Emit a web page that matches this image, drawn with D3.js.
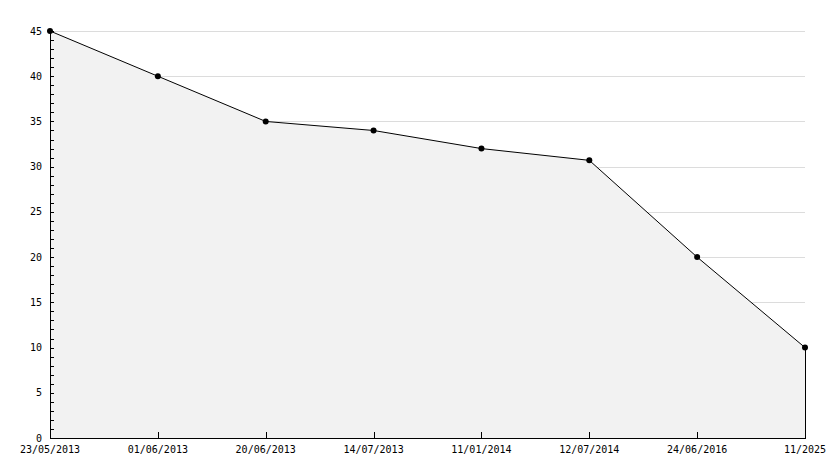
<!DOCTYPE html>
<html><head><meta charset="utf-8">
<script src="https://cdn.jsdelivr.net/npm/d3@7"></script>
<style>body{margin:0;background:#fff}svg{display:block}</style>
</head><body>
<svg id="c" width="834" height="468"></svg>
<script>
const categories = ["23/05/2013","01/06/2013","20/06/2013","14/07/2013","11/01/2014","12/07/2014","24/06/2016","11/2025"];
const values = [45, 40, 35, 34, 32, 30.7, 20, 10];
const yTicks = [0,5,10,15,20,25,30,35,40,45];

(function(){
const svg = d3.select("#c");
const mLeft = 50, mRight = 805, mTop = 31, mBottom = 438;
const x = d3.scalePoint().domain(categories).range([mLeft, mRight]);
const y = d3.scaleLinear().domain([0, 45]).range([mBottom, mTop]);
const font = "DejaVu Sans Mono";

svg.append("g").selectAll("line").data(yTicks.filter(t => t > 0)).join("line")
  .attr("x1", mLeft).attr("x2", mRight)
  .attr("y1", d => Math.round(y(d)) + 0.5).attr("y2", d => Math.round(y(d)) + 0.5)
  .attr("stroke", "#dcdcdc").attr("stroke-width", 1);

const data = categories.map((c, i) => ({c, v: values[i]}));
const area = d3.area().x(d => x(d.c)).y0(mBottom).y1(d => y(d.v));
svg.append("path").datum(data).attr("d", area).attr("fill", "#f2f2f2");
const line = d3.line().x(d => x(d.c)).y(d => y(d.v));
svg.append("path").datum(data).attr("d", line).attr("fill", "none").attr("stroke", "#000").attr("stroke-width", 1);
const last = data[data.length - 1];
svg.append("line").attr("x1", x(last.c) + 0.5).attr("x2", x(last.c) + 0.5)
  .attr("y1", y(last.v)).attr("y2", mBottom).attr("stroke", "#000");

const yAxis = svg.append("g");
yAxis.append("line").attr("x1", mLeft + 0.5).attr("x2", mLeft + 0.5).attr("y1", mTop - 1).attr("y2", mBottom + 0.5).attr("stroke", "#000");
const minor = d3.range(0, 46, 1);
yAxis.selectAll("line.m").data(minor).join("line").attr("class", "m")
  .attr("x1", mLeft).attr("x2", mLeft + 4)
  .attr("y1", d => Math.round(y(d)) + 0.5).attr("y2", d => Math.round(y(d)) + 0.5)
  .attr("stroke", "#000");
yAxis.selectAll("text").data(yTicks).join("text")
  .attr("x", 42).attr("y", d => y(d)).attr("dy", "0.35em")
  .attr("text-anchor", "end").attr("font-family", font).attr("font-size", 10).attr("fill", "#000")
  .text(d => d);

const xAxis = svg.append("g");
xAxis.append("line").attr("x1", mLeft).attr("x2", mRight + 1).attr("y1", mBottom + 0.5).attr("y2", mBottom + 0.5).attr("stroke", "#000");
xAxis.selectAll("line.t").data(categories).join("line").attr("class", "t")
  .attr("x1", d => Math.round(x(d)) + 0.5).attr("x2", d => Math.round(x(d)) + 0.5)
  .attr("y1", mBottom).attr("y2", mBottom - 6).attr("stroke", "#000");
xAxis.selectAll("text").data(categories).join("text")
  .attr("x", d => x(d)).attr("y", 449).attr("dy", "0.35em")
  .attr("text-anchor", "middle").attr("font-family", font).attr("font-size", 10).attr("fill", "#000")
  .text(d => d);

svg.append("g").selectAll("circle").data(data).join("circle")
  .attr("cx", d => x(d.c)).attr("cy", d => y(d.v)).attr("r", 3).attr("fill", "#000");
})();
</script>
</body></html>
